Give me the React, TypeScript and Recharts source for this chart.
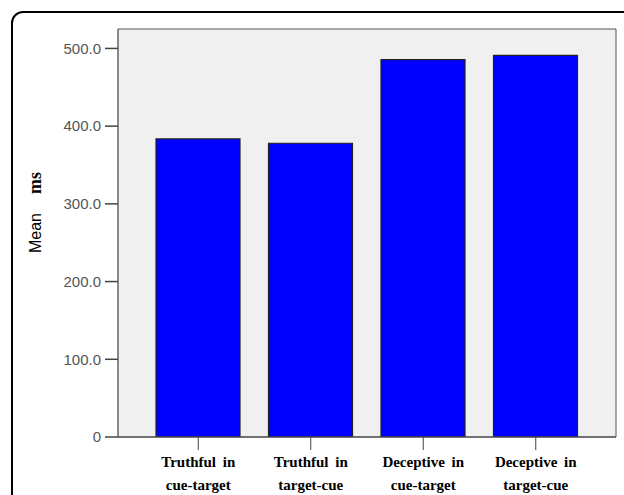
import React from 'react';
import { BarChart, Bar, XAxis, YAxis, CartesianGrid } from 'recharts';

const conditions = [
  'Truthful in\ncue-target',
  'Truthful in\ntarget-cue',
  'Deceptive in\ncue-target',
  'Deceptive in\ntarget-cue',
];
const meanMs = [383.5, 378, 485.5, 491];
const yTicks = [0, 100, 200, 300, 400, 500];

const data = conditions.map((name, i) => ({ name, value: meanMs[i] }));

const CategoryTick = (props: any) => {
  const { x, y, payload } = props;
  const lines = String(payload.value).split('\n');
  return (
    <text
      x={x}
      y={y}
      textAnchor="middle"
      fill="#000"
      fontFamily="'Liberation Serif', 'Times New Roman', serif"
      fontWeight="bold"
      fontSize={15}
    >
      {lines.map((l, i) => (
        <tspan key={i} x={x} dy={i === 0 ? 15 : 23} wordSpacing={3}>
          {l}
        </tspan>
      ))}
    </text>
  );
};

const AxisTitle = () => (
  <g transform="translate(41, 253) rotate(-90)">
    <text x={0} y={0} fill="#000">
      <tspan fontFamily="'Liberation Sans', Arial, sans-serif" fontSize={16}>
        Mean
      </tspan>
      <tspan
        dx={19}
        fontFamily="'Liberation Serif', 'Times New Roman', serif"
        fontWeight="bold"
        fontSize={18}
      >
        ms
      </tspan>
    </text>
  </g>
);

export default function App() {
  return (
    <div style={{ position: 'fixed', left: 0, top: 0, width: 624, height: 495, overflow: 'hidden', background: '#fff' }}>
      <div
        style={{
          position: 'absolute',
          left: 11,
          top: 11,
          width: 700,
          height: 600,
          border: '2px solid #000',
          borderRadius: 12,
        }}
      />
      <div style={{ position: 'absolute', left: 0, top: 0 }}>
        <BarChart
          width={624}
          height={495}
          data={data}
          margin={{ top: 29, right: 8, bottom: 0, left: 0 }}
          barCategoryGap="25%"
        >
          <CartesianGrid
            fill="#f0f0f0"
            stroke="#555"
            horizontalCoordinatesGenerator={({ offset }: any) => [offset.top]}
            verticalCoordinatesGenerator={({ offset }: any) => [offset.left + offset.width]}
          />
          <XAxis
            dataKey="name"
            height={58}
            interval={0}
            padding={{ left: 24, right: 24 }}
            tickSize={13}
            tickMargin={2}
            axisLine={{ stroke: '#444', strokeWidth: 1.5 }}
            tickLine={{ stroke: '#444' }}
            tick={<CategoryTick />}
          />
          <YAxis
            width={118}
            domain={[0, 525]}
            ticks={yTicks}
            allowDataOverflow
            tickSize={13}
            tickMargin={4}
            axisLine={{ stroke: '#666', strokeWidth: 1.5 }}
            tickLine={{ stroke: '#444', strokeWidth: 1.5 }}
            tickFormatter={(v: number) => (v === 0 ? '0' : v.toFixed(1))}
            tick={{ fill: '#555', fontSize: 15, fontFamily: "'Liberation Sans', Arial, sans-serif" }}
            label={{ content: () => <AxisTitle /> }}
          />
          <Bar
            dataKey="value"
            fill="#0000ff"
            stroke="#222"
            strokeWidth={1.2}
            barSize={84}
            isAnimationActive={false}
          />
        </BarChart>
      </div>
    </div>
  );
}
